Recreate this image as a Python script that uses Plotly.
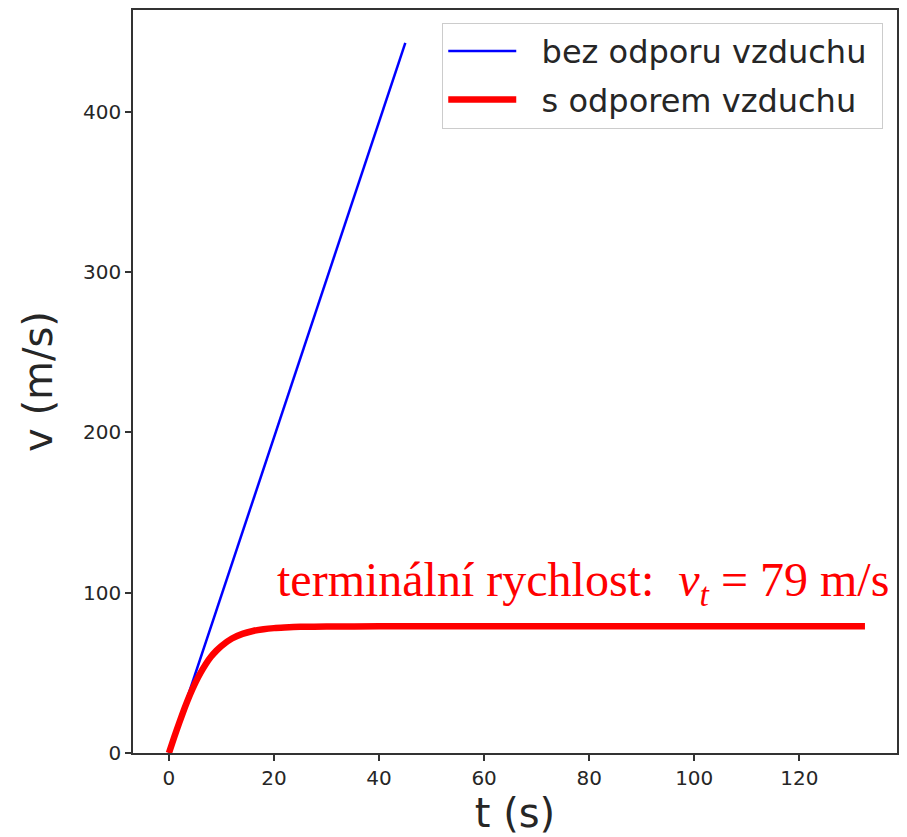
import plotly.graph_objects as go

# Free fall without drag: straight line v = g t
t_free = [0, 45]
v_free = [0, 443]

# Free fall with air drag, approaching the terminal velocity
t_drag = [0, 1, 2, 3, 4, 5, 6, 7, 8, 9, 10, 12, 14, 16, 18, 20, 22, 25, 30, 40, 60, 80, 100, 132.5]
v_drag = [0, 9.8, 19.2, 28.1, 36.3, 43.6, 49.9, 55.4, 60.0, 63.7, 66.8, 71.4, 74.3, 76.1,
          77.2, 77.9, 78.3, 78.7, 78.9, 79.0, 79.0, 79.0, 79.0, 79.0]

x_ticks = [0, 20, 40, 60, 80, 100, 120]
y_ticks = [0, 100, 200, 300, 400]

series_names = ["bez odporu vzduchu", "s odporem vzduchu"]
v_terminal = 79

# non-breaking spaces give the legend text a bit of breathing room
pad = "\u00a0"

fig = go.Figure()
fig.add_trace(go.Scatter(
    x=t_free, y=v_free, mode="lines", name=pad * 2 + series_names[0] + pad,
    legendgroup="a",
    line=dict(color="#0000ff", width=2.5),
))
fig.add_trace(go.Scatter(
    x=t_drag, y=v_drag, mode="lines", name=pad * 2 + series_names[1] + pad,
    legendgroup="b",
    line=dict(color="#ff0000", width=6.5, shape="spline", smoothing=0.6),
))

fig.add_annotation(
    x=20.2, y=106, xref="x", yref="y", xanchor="left", yanchor="middle",
    text=f"terminální rychlost:\u00a0\u00a0<i>v<sub>t</sub></i> = {v_terminal} m/s",
    showarrow=False,
    font=dict(family="Liberation Serif", size=48, color="#ff0000"),
)

axis_common = dict(
    showline=True, mirror=True, linecolor="#333333", linewidth=1.5,
    ticks="outside", ticklen=6, tickwidth=1.5, tickcolor="#333333",
    showgrid=False, zeroline=False,
    tickfont=dict(family="DejaVu Sans", size=20, color="#262626"),
)

fig.update_layout(
    width=907, height=837,
    margin=dict(l=133, r=9, t=8, b=84),
    paper_bgcolor="white", plot_bgcolor="white",
    xaxis=dict(
        range=[-6.84, 138.6], tickvals=x_ticks,
        title=dict(text="t (s)", font=dict(family="DejaVu Sans", size=40, color="#262626"), standoff=10),
        **axis_common,
    ),
    yaxis=dict(
        range=[0, 463.5], tickvals=y_ticks,
        title=dict(text="v (m/s)", font=dict(family="DejaVu Sans", size=40, color="#262626"), standoff=18),
        **axis_common,
    ),
    legend=dict(
        x=0.982, y=0.983, xanchor="right", yanchor="top",
        bgcolor="rgba(255,255,255,0.8)", bordercolor="#cccccc", borderwidth=1,
        font=dict(family="DejaVu Sans", size=32, color="#262626"),
        itemwidth=68, tracegroupgap=4, traceorder="grouped",
    ),
    showlegend=True,
)

fig.write_html("out.html")
